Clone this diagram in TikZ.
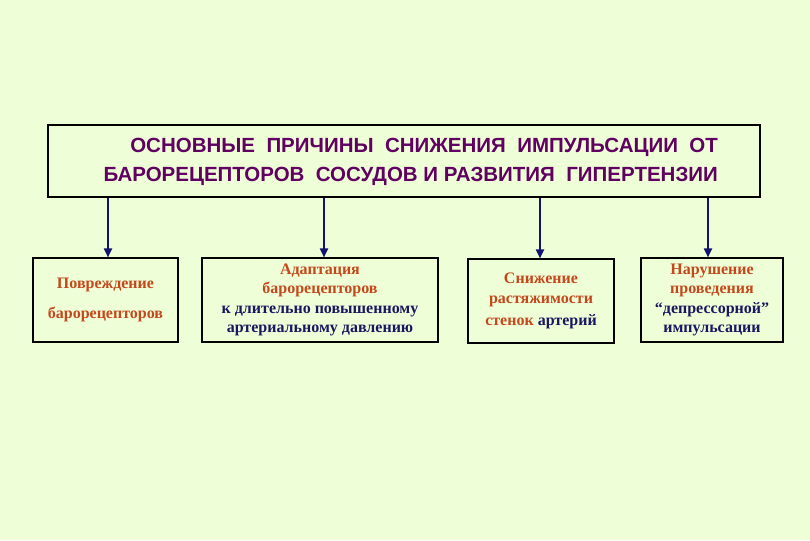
\documentclass[tikz,border=0pt]{standalone}
\usepackage{fontspec}
\setmainfont{Liberation Serif}
\newfontfamily\titlefont{Liberation Sans}
\usetikzlibrary{arrows.meta, positioning}
\definecolor{bgcol}{RGB}{238,255,216}
\definecolor{titlecol}{RGB}{96,0,96}
\definecolor{rustcol}{RGB}{196,72,28}
\definecolor{navycol}{RGB}{24,24,96}
\definecolor{arrowcol}{RGB}{20,20,110}

\tikzset{
  causebox/.style={draw=black, line width=1.1pt, fill=bgcol, minimum height=84pt,
    align=center, inner sep=0pt, font=\bfseries\fontsize{16}{19.5}\selectfont},
  titleline/.style={text=titlecol, anchor=east, inner sep=0pt,
    font=\titlefont\bfseries\fontsize{20.5}{29}\selectfont},
  causearrow/.style={draw=arrowcol, line width=1.8pt, -{Triangle[length=9pt,width=8pt]}},
}
\newcommand{\rust}[1]{\textcolor{rustcol}{#1}}
\newcommand{\navy}[1]{\textcolor{navycol}{#1}}

\begin{document}
\begin{tikzpicture}[x=1pt,y=-1pt]
  \fill[bgcol] (0,0) rectangle (810,540);
  \useasboundingbox (0,0) rectangle (810,540);
  % header
  \node[draw=black, line width=1.1pt, fill=bgcol, minimum width=712pt, minimum height=72pt]
    (head) at (404,161) {};
  \node[titleline] (title1) at (718,147) {ОСНОВНЫЕ \ ПРИЧИНЫ \ СНИЖЕНИЯ \ ИМПУЛЬСАЦИИ \ ОТ};
  \node[titleline] (title2) at (718,176) {БАРОРЕЦЕПТОРОВ \ СОСУДОВ И РАЗВИТИЯ \ ГИПЕРТЕНЗИИ};
  % causes
  \node[causebox, minimum width=145pt] (b1) at (105.5,300)
    {\rust{Повреждение}\\[11pt]\rust{барорецепторов}};
  \node[causebox, minimum width=236pt] (b2) at (320,300)
    {\rust{Адаптация}\\\rust{барорецепторов}\\\navy{к длительно повышенному}\\\navy{артериальному давлению}};
  \node[causebox, minimum width=146pt] (b3) at (541,301)
    {\rust{Снижение}\\\rust{растяжимости}\\[3pt]\rust{стенок} \navy{артерий}};
  \node[causebox, minimum width=142pt] (b4) at (712,300)
    {\rust{Нарушение}\\\rust{проведения}\\\navy{“депрессорной”}\\\navy{импульсации}};
  % arrows
  \foreach \b/\dx in {b1/2.5, b2/4, b3/-1, b4/-4}
    \draw[causearrow] ([xshift=\dx]head.south -| \b.north) -- ([xshift=\dx]\b.north);
\end{tikzpicture}
\end{document}
